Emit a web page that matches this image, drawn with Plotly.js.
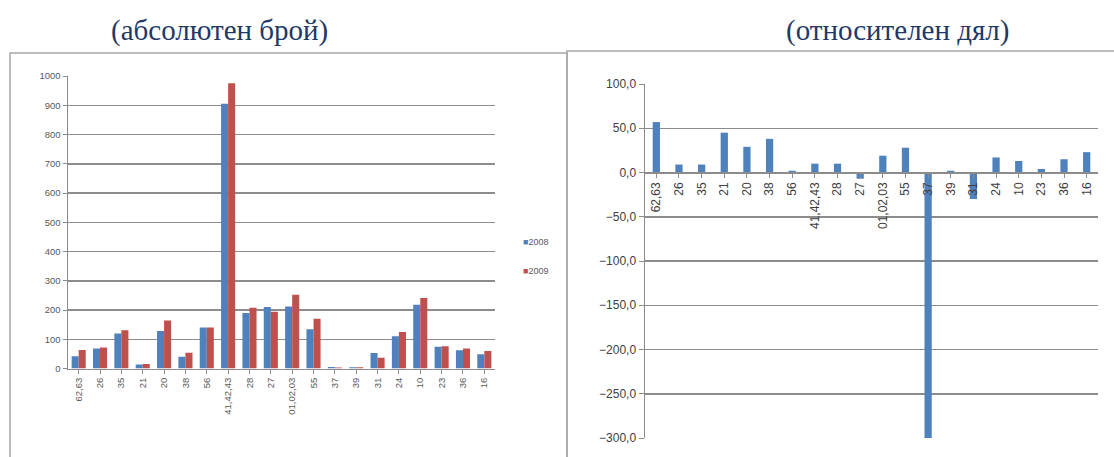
<!DOCTYPE html>
<html>
<head>
<meta charset="utf-8">
<script src="https://cdn.plot.ly/plotly-3.0.1.min.js"></script>
<style>html,body{margin:0;padding:0;background:#fff;}#chart{width:1114px;height:457px;}</style>
</head>
<body>
<div id="chart"></div>
<script>
// ---- data ----
const categories = ["62,63","26","35","21","20","38","56","41,42,43","28","27","01,02,03","55","37","39","31","24","10","23","36","16"];
const values2008 = [42, 68, 120, 14, 128, 40, 140, 905, 190, 210, 212, 134, 5, 4, 53, 110, 218, 74, 62, 49];
const values2009 = [63, 72, 131, 15, 164, 54, 140, 975, 208, 194, 252, 170, 3, 4, 37, 125, 241, 76, 68, 60];
const relativeShare = [57, 9, 9, 45, 29, 38, 2, 10, 10, -7, 19, 28, -300, 2, -30, 17, 13, 4, 15, 23];
const seriesNames = ["2008", "2009"];
const seriesColors = ["#4f81bd", "#c0504d"];
const titleLeft = "(абсолютен брой)";
const titleRight = "(относителен дял)";

const W = 1114, H = 457;
const px = v => v / W;
const py = v => 1 - v / H;

const traces = [
  {type:'bar', x:categories, y:values2008, name:seriesNames[0], marker:{color:seriesColors[0], line:{width:0}}, xaxis:'x', yaxis:'y', showlegend:false},
  {type:'bar', x:categories, y:values2009, name:seriesNames[1], marker:{color:seriesColors[1], line:{width:0}}, xaxis:'x', yaxis:'y', showlegend:false},
  {type:'bar', x:categories, y:relativeShare, name:'дял', marker:{color:seriesColors[0], line:{width:0}}, xaxis:'x2', yaxis:'y2', width:0.32, showlegend:false}
];

const leftTick = {family:'Liberation Sans, Arial, sans-serif', size:9.5, color:'#595959'};
const rightTick = {family:'Liberation Sans, Arial, sans-serif', size:12, color:'#404040'};

const legendAnn = seriesNames.map((n, i) => ({
  text: '<span style="color:' + seriesColors[i] + '">■</span>' + n,
  xref:'paper', yref:'paper', x:px(521), y:py(242 + 29*i), xanchor:'left', yanchor:'middle', showarrow:false,
  font:{family:'Liberation Sans, Arial, sans-serif', size:9, color:'#595959'}
}));

const layout = {
  width: W, height: H,
  margin: {l:0, r:0, t:0, b:0},
  paper_bgcolor: '#ffffff', plot_bgcolor: 'rgba(0,0,0,0)',
  separators: ', ',
  barmode: 'group', bargap: 0.34, bargroupgap: 0,
  showlegend: false,
  xaxis: {
    domain: [px(68), px(495)], anchor: 'y', type: 'category',
    tickangle: -90, tickfont: leftTick,
    showline: true, linecolor: '#8c8c8c', linewidth: 1.5,
    ticks: 'outside', ticklen: 4, tickcolor: '#8c8c8c', showgrid: false
  },
  yaxis: {
    domain: [py(368.5), py(76)], anchor: 'x', range: [0, 1000],
    tickvals: [0,100,200,300,400,500,600,700,800,900,1000],
    tickfont: leftTick, showline: true, linecolor: '#8c8c8c', linewidth: 1.5,
    ticks: 'outside', ticklen: 4, tickcolor: '#8c8c8c',
    showgrid: true, gridcolor: '#8c8c8c', gridwidth: 1.5, zeroline: false
  },
  xaxis2: {
    domain: [px(645), px(1098)], anchor: 'free', position: py(172), type: 'category',
    tickangle: -90, tickfont: rightTick,
    showline: true, linecolor: '#8c8c8c', linewidth: 1.5,
    ticks: 'outside', ticklen: 4, tickcolor: '#8c8c8c', showgrid: false
  },
  yaxis2: {
    domain: [py(438), py(84)], anchor: 'x2', range: [-300, 100],
    tickvals: [-300,-250,-200,-150,-100,-50,0,50,100], tickformat: '.1f',
    tickfont: rightTick, showline: true, linecolor: '#8c8c8c', linewidth: 1.5,
    ticks: 'outside', ticklen: 5, tickcolor: '#8c8c8c',
    showgrid: true, gridcolor: '#8c8c8c', gridwidth: 1.5, zeroline: true, zerolinecolor: '#8c8c8c', zerolinewidth: 1.5
  },
  shapes: [
    {type:'rect', xref:'paper', yref:'paper', x0:px(10), x1:px(567), y0:-0.1, y1:py(53), line:{color:'#a6a6a6', width:1.5}, fillcolor:'rgba(0,0,0,0)', layer:'below'},
    {type:'rect', xref:'paper', yref:'paper', x0:px(567), x1:1.1, y0:-0.1, y1:py(51), line:{color:'#a6a6a6', width:1.5}, fillcolor:'rgba(0,0,0,0)', layer:'below'}
  ],
  annotations: [
    {text: titleLeft, xref:'paper', yref:'paper', x:px(219), y:py(31), xanchor:'center', yanchor:'middle', showarrow:false,
     font:{family:'Liberation Serif, Times New Roman, serif', size:29, color:'#1f3864'}},
    {text: titleRight, xref:'paper', yref:'paper', x:px(897), y:py(31), xanchor:'center', yanchor:'middle', showarrow:false,
     font:{family:'Liberation Serif, Times New Roman, serif', size:29, color:'#1f3864'}}
  ].concat(legendAnn)
};

Plotly.newPlot('chart', traces, layout, {displayModeBar:false, staticPlot:true});
</script>
</body>
</html>
